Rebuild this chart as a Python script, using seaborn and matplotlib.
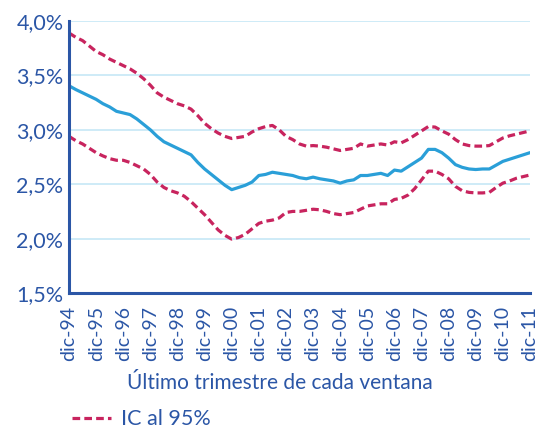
import matplotlib
matplotlib.use("Agg")
import matplotlib.pyplot as plt
import numpy as np
import pandas as pd
import seaborn as sns

# === Datos (trimestrales, dic-94 .. dic-11) ===
central = [3.405, 3.37, 3.34, 3.31, 3.28, 3.24, 3.21, 3.17, 3.155, 3.14, 3.10, 3.05,
           3.00, 2.94, 2.89, 2.86, 2.83, 2.80, 2.77, 2.70, 2.64, 2.59, 2.54, 2.49,
           2.45, 2.47, 2.49, 2.52, 2.58, 2.59, 2.61, 2.60, 2.59, 2.58, 2.56, 2.55,
           2.565, 2.55, 2.54, 2.53, 2.51, 2.53, 2.54, 2.58, 2.58, 2.59, 2.60, 2.58,
           2.63, 2.62, 2.66, 2.70, 2.74, 2.82, 2.82, 2.79, 2.74, 2.68, 2.655, 2.64,
           2.635, 2.64, 2.64, 2.675, 2.71, 2.73, 2.75, 2.77, 2.79]
upper = [3.89, 3.85, 3.82, 3.77, 3.72, 3.69, 3.65, 3.62, 3.59, 3.56, 3.52, 3.47,
         3.41, 3.34, 3.30, 3.27, 3.24, 3.22, 3.19, 3.13, 3.06, 3.01, 2.97, 2.94,
         2.92, 2.93, 2.94, 2.98, 3.01, 3.03, 3.04, 3.00, 2.94, 2.91, 2.87, 2.85,
         2.855, 2.85, 2.84, 2.825, 2.81, 2.82, 2.83, 2.87, 2.85, 2.86, 2.87, 2.86,
         2.89, 2.88, 2.91, 2.95, 2.99, 3.03, 3.025, 2.99, 2.96, 2.91, 2.87, 2.855,
         2.85, 2.85, 2.855, 2.89, 2.925, 2.945, 2.96, 2.975, 2.99]
lower = [2.94, 2.90, 2.87, 2.83, 2.79, 2.76, 2.735, 2.72, 2.72, 2.70, 2.67, 2.64,
         2.59, 2.52, 2.47, 2.44, 2.42, 2.39, 2.34, 2.28, 2.22, 2.15, 2.08, 2.03,
         1.995, 2.01, 2.04, 2.09, 2.14, 2.16, 2.17, 2.19, 2.24, 2.25, 2.25, 2.26,
         2.27, 2.265, 2.25, 2.23, 2.22, 2.23, 2.24, 2.27, 2.30, 2.31, 2.32, 2.32,
         2.36, 2.37, 2.40, 2.46, 2.54, 2.62, 2.62, 2.59, 2.55, 2.48, 2.44, 2.425,
         2.42, 2.42, 2.425, 2.47, 2.51, 2.53, 2.555, 2.57, 2.585]
year_labels = ["dic-94", "dic-95", "dic-96", "dic-97", "dic-98", "dic-99", "dic-00",
               "dic-01", "dic-02", "dic-03", "dic-04", "dic-05", "dic-06", "dic-07",
               "dic-08", "dic-09", "dic-10", "dic-11"]
y_ticks = [1.5, 2.0, 2.5, 3.0, 3.5, 4.0]

df = pd.DataFrame({"t": np.arange(len(central)), "central": central,
                   "upper": upper, "lower": lower})

# === Estilo ===
sns.set_style("white")
plt.rcParams["font.family"] = ["Lato", "DejaVu Sans"]
dark_blue = "#2b56a6"
line_blue = "#2a9fd8"
magenta = "#c8245e"
grid_blue = "#c6e7f6"
dashes = (0, (2.4, 1.3))

fig = plt.figure(figsize=(5.49, 4.33), dpi=100)
ax = fig.add_axes([0.1257, 0.3233, 0.8397, 0.6282])

sns.lineplot(data=df, x="t", y="upper", ax=ax, color=magenta, lw=2.3,
             linestyle=dashes, label="IC al 95%")
sns.lineplot(data=df, x="t", y="lower", ax=ax, color=magenta, lw=2.3,
             linestyle=dashes, label="_nolegend_")
sns.lineplot(data=df, x="t", y="central", ax=ax, color=line_blue, lw=2.3,
             label="_nolegend_")

ax.set_xlim(0, len(central) - 1)
ax.set_ylim(1.5, 4.0)
ax.set_yticks(y_ticks)
ax.set_yticklabels([f"{v:.1f}%".replace(".", ",") for v in y_ticks],
                   fontsize=15.5, color=dark_blue)
ax.set_xticks(np.arange(0, len(central), 4))
ax.set_xticklabels(year_labels, rotation=90, fontsize=14, color=dark_blue)
ax.tick_params(axis="x", direction="out", length=4, width=1.2, color=dark_blue, pad=5)
ax.tick_params(axis="y", length=0, pad=4)

ax.grid(axis="y", color=grid_blue, lw=1.2)
ax.set_axisbelow(True)
for side in ["top", "right"]:
    ax.spines[side].set_visible(False)
for side in ["left", "bottom"]:
    ax.spines[side].set_color(dark_blue)
    ax.spines[side].set_linewidth(2.2)

ax.set_xlabel("Último trimestre de cada ventana", fontsize=15, color=dark_blue)
ax.xaxis.set_label_coords(0.458, -0.295)
ax.set_ylabel("")
ax.get_legend().remove()

handles, labels = ax.get_legend_handles_labels()
leg = fig.legend(handles, labels, loc="center left", bbox_to_anchor=(0.096, 0.032),
                 frameon=False, fontsize=15.5, handlelength=1.8, handletextpad=0.45)
for txt in leg.get_texts():
    txt.set_color(dark_blue)

fig.savefig("out.png", dpi=100)
